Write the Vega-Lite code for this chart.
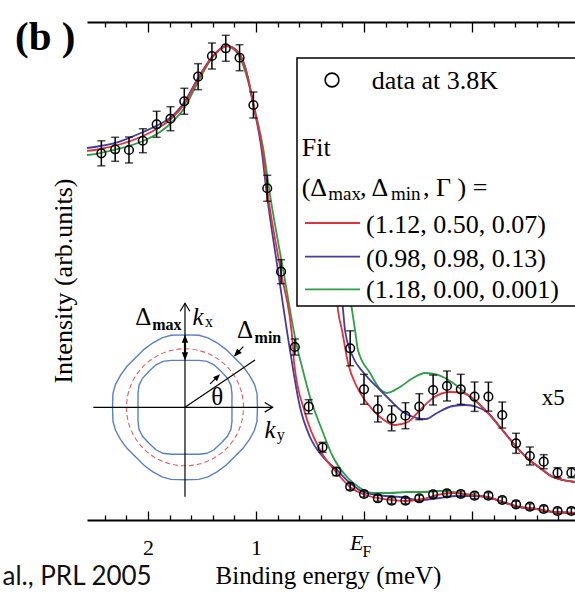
{
  "$schema": "https://vega.github.io/schema/vega-lite/v6.json",
  "width": 488,
  "height": 498,
  "autosize": {"type": "none"},
  "padding": {"left": 87, "top": 22, "right": 0, "bottom": 74},
  "background": "white",
  "config": {"view": {"stroke": null}, "font": "Liberation Serif", "axis": {"grid": false}},
  "datasets": {
    "curves": [
      {"fit":"green","part":"main","E":2.565,"I":73.29},{"fit":"green","part":"main","E":2.444,"I":73.69},{"fit":"green","part":"main","E":2.278,"I":74.5},{"fit":"green","part":"main","E":2.046,"I":76.1},{"fit":"green","part":"main","E":1.889,"I":77.91},{"fit":"green","part":"main","E":1.796,"I":79.52},{"fit":"green","part":"main","E":1.657,"I":82.93},{"fit":"green","part":"main","E":1.537,"I":87.95},{"fit":"green","part":"main","E":1.407,"I":92.77},{"fit":"green","part":"main","E":1.269,"I":95.18},{"fit":"green","part":"main","E":1.167,"I":93.57},{"fit":"green","part":"main","E":1.074,"I":88.15},{"fit":"green","part":"main","E":1.019,"I":83.13},{"fit":"green","part":"main","E":0.926,"I":73.69},{"fit":"green","part":"main","E":0.88,"I":66.67},{"fit":"green","part":"main","E":0.745,"I":49.8},{"fit":"green","part":"main","E":0.62,"I":34.74},{"fit":"green","part":"main","E":0.583,"I":31.53},{"fit":"green","part":"main","E":0.5,"I":24.7},{"fit":"green","part":"main","E":0.389,"I":18.07},{"fit":"green","part":"main","E":0.287,"I":12.65},{"fit":"green","part":"main","E":0.157,"I":8.63},{"fit":"green","part":"main","E":0.037,"I":6.43},{"fit":"green","part":"main","E":-0.083,"I":5.42},{"fit":"green","part":"main","E":-0.241,"I":5.42},{"fit":"green","part":"main","E":-0.398,"I":5.62},{"fit":"green","part":"main","E":-0.546,"I":5.62},{"fit":"green","part":"main","E":-0.704,"I":5.82},{"fit":"green","part":"main","E":-0.889,"I":5.42},{"fit":"green","part":"main","E":-1.0,"I":5.02},{"fit":"green","part":"main","E":-1.139,"I":4.62},{"fit":"green","part":"main","E":-1.287,"I":3.61},{"fit":"green","part":"main","E":-1.444,"I":2.61},{"fit":"green","part":"main","E":-1.602,"I":2.21},{"fit":"green","part":"main","E":-1.75,"I":1.61},{"fit":"green","part":"main","E":-1.954,"I":1.41},
      {"fit":"blue","part":"main","E":2.565,"I":74.7},{"fit":"blue","part":"main","E":2.444,"I":75.1},{"fit":"blue","part":"main","E":2.278,"I":75.9},{"fit":"blue","part":"main","E":2.046,"I":77.91},{"fit":"blue","part":"main","E":1.889,"I":79.52},{"fit":"blue","part":"main","E":1.796,"I":80.72},{"fit":"blue","part":"main","E":1.657,"I":84.14},{"fit":"blue","part":"main","E":1.537,"I":88.76},{"fit":"blue","part":"main","E":1.407,"I":92.97},{"fit":"blue","part":"main","E":1.269,"I":95.18},{"fit":"blue","part":"main","E":1.167,"I":93.98},{"fit":"blue","part":"main","E":1.074,"I":88.76},{"fit":"blue","part":"main","E":1.028,"I":83.73},{"fit":"blue","part":"main","E":0.944,"I":73.69},{"fit":"blue","part":"main","E":0.907,"I":66.67},{"fit":"blue","part":"main","E":0.796,"I":50.0},{"fit":"blue","part":"main","E":0.69,"I":34.74},{"fit":"blue","part":"main","E":0.593,"I":22.69},{"fit":"blue","part":"main","E":0.5,"I":16.67},{"fit":"blue","part":"main","E":0.38,"I":12.65},{"fit":"blue","part":"main","E":0.25,"I":10.04},{"fit":"blue","part":"main","E":0.13,"I":7.43},{"fit":"blue","part":"main","E":0.009,"I":5.62},{"fit":"blue","part":"main","E":-0.12,"I":5.02},{"fit":"blue","part":"main","E":-0.333,"I":4.62},{"fit":"blue","part":"main","E":-0.519,"I":4.02},{"fit":"blue","part":"main","E":-0.704,"I":4.42},{"fit":"blue","part":"main","E":-0.861,"I":4.82},{"fit":"blue","part":"main","E":-1.0,"I":4.82},{"fit":"blue","part":"main","E":-1.139,"I":4.62},{"fit":"blue","part":"main","E":-1.287,"I":3.61},{"fit":"blue","part":"main","E":-1.444,"I":2.61},{"fit":"blue","part":"main","E":-1.602,"I":2.21},{"fit":"blue","part":"main","E":-1.75,"I":1.61},{"fit":"blue","part":"main","E":-1.954,"I":1.41},
      {"fit":"red","part":"main","E":2.565,"I":74.1},{"fit":"red","part":"main","E":2.444,"I":74.5},{"fit":"red","part":"main","E":2.278,"I":75.3},{"fit":"red","part":"main","E":2.046,"I":77.11},{"fit":"red","part":"main","E":1.889,"I":78.92},{"fit":"red","part":"main","E":1.796,"I":80.32},{"fit":"red","part":"main","E":1.657,"I":83.73},{"fit":"red","part":"main","E":1.537,"I":88.55},{"fit":"red","part":"main","E":1.407,"I":92.97},{"fit":"red","part":"main","E":1.269,"I":95.18},{"fit":"red","part":"main","E":1.167,"I":93.98},{"fit":"red","part":"main","E":1.074,"I":88.76},{"fit":"red","part":"main","E":1.028,"I":83.73},{"fit":"red","part":"main","E":0.935,"I":73.69},{"fit":"red","part":"main","E":0.898,"I":66.67},{"fit":"red","part":"main","E":0.769,"I":49.8},{"fit":"red","part":"main","E":0.657,"I":34.74},{"fit":"red","part":"main","E":0.648,"I":31.73},{"fit":"red","part":"main","E":0.546,"I":21.49},{"fit":"red","part":"main","E":0.407,"I":14.06},{"fit":"red","part":"main","E":0.25,"I":9.44},{"fit":"red","part":"main","E":0.13,"I":6.63},{"fit":"red","part":"main","E":0.009,"I":5.22},{"fit":"red","part":"main","E":-0.12,"I":4.42},{"fit":"red","part":"main","E":-0.241,"I":4.02},{"fit":"red","part":"main","E":-0.398,"I":3.82},{"fit":"red","part":"main","E":-0.546,"I":4.22},{"fit":"red","part":"main","E":-0.676,"I":5.02},{"fit":"red","part":"main","E":-0.824,"I":5.42},{"fit":"red","part":"main","E":-0.981,"I":5.02},{"fit":"red","part":"main","E":-1.139,"I":4.62},{"fit":"red","part":"main","E":-1.287,"I":3.61},{"fit":"red","part":"main","E":-1.444,"I":2.61},{"fit":"red","part":"main","E":-1.602,"I":2.21},{"fit":"red","part":"main","E":-1.75,"I":1.61},{"fit":"red","part":"main","E":-1.954,"I":1.41},
      {"fit":"green","part":"x5","E":0.139,"I":46.18},{"fit":"green","part":"x5","E":0.111,"I":42.17},{"fit":"green","part":"x5","E":0.083,"I":38.15},{"fit":"green","part":"x5","E":0.056,"I":34.14},{"fit":"green","part":"x5","E":-0.056,"I":29.52},{"fit":"green","part":"x5","E":-0.148,"I":26.31},{"fit":"green","part":"x5","E":-0.213,"I":25.5},{"fit":"green","part":"x5","E":-0.333,"I":26.71},{"fit":"green","part":"x5","E":-0.454,"I":28.51},{"fit":"green","part":"x5","E":-0.565,"I":29.52},{"fit":"green","part":"x5","E":-0.685,"I":29.12},{"fit":"green","part":"x5","E":-0.824,"I":27.51},{"fit":"green","part":"x5","E":-0.981,"I":24.7},{"fit":"green","part":"x5","E":-1.074,"I":23.09},{"fit":"green","part":"x5","E":-1.139,"I":21.69},{"fit":"green","part":"x5","E":-1.259,"I":18.67},{"fit":"green","part":"x5","E":-1.38,"I":15.46},{"fit":"green","part":"x5","E":-1.509,"I":12.45},{"fit":"green","part":"x5","E":-1.63,"I":10.44},{"fit":"green","part":"x5","E":-1.75,"I":8.63},{"fit":"green","part":"x5","E":-1.954,"I":7.63},
      {"fit":"blue","part":"x5","E":0.213,"I":46.18},{"fit":"blue","part":"x5","E":0.194,"I":42.17},{"fit":"blue","part":"x5","E":0.176,"I":38.15},{"fit":"blue","part":"x5","E":0.102,"I":32.73},{"fit":"blue","part":"x5","E":0.009,"I":29.72},{"fit":"blue","part":"x5","E":-0.12,"I":26.71},{"fit":"blue","part":"x5","E":-0.241,"I":24.1},{"fit":"blue","part":"x5","E":-0.361,"I":21.69},{"fit":"blue","part":"x5","E":-0.491,"I":20.48},{"fit":"blue","part":"x5","E":-0.574,"I":20.28},{"fit":"blue","part":"x5","E":-0.676,"I":21.49},{"fit":"blue","part":"x5","E":-0.824,"I":22.89},{"fit":"blue","part":"x5","E":-0.944,"I":23.09},{"fit":"blue","part":"x5","E":-1.046,"I":22.69},{"fit":"blue","part":"x5","E":-1.139,"I":21.69},{"fit":"blue","part":"x5","E":-1.259,"I":18.67},{"fit":"blue","part":"x5","E":-1.38,"I":15.46},{"fit":"blue","part":"x5","E":-1.509,"I":12.45},{"fit":"blue","part":"x5","E":-1.63,"I":10.44},{"fit":"blue","part":"x5","E":-1.75,"I":8.63},{"fit":"blue","part":"x5","E":-1.954,"I":7.63},
      {"fit":"red","part":"x5","E":0.259,"I":46.18},{"fit":"red","part":"x5","E":0.241,"I":42.17},{"fit":"red","part":"x5","E":0.204,"I":38.15},{"fit":"red","part":"x5","E":0.148,"I":31.53},{"fit":"red","part":"x5","E":0.065,"I":26.71},{"fit":"red","part":"x5","E":-0.028,"I":23.49},{"fit":"red","part":"x5","E":-0.148,"I":20.68},{"fit":"red","part":"x5","E":-0.287,"I":19.08},{"fit":"red","part":"x5","E":-0.407,"I":19.68},{"fit":"red","part":"x5","E":-0.519,"I":22.09},{"fit":"red","part":"x5","E":-0.639,"I":24.5},{"fit":"red","part":"x5","E":-0.796,"I":25.7},{"fit":"red","part":"x5","E":-0.917,"I":25.5},{"fit":"red","part":"x5","E":-1.028,"I":24.1},{"fit":"red","part":"x5","E":-1.139,"I":21.69},{"fit":"red","part":"x5","E":-1.259,"I":18.67},{"fit":"red","part":"x5","E":-1.38,"I":15.46},{"fit":"red","part":"x5","E":-1.509,"I":12.45},{"fit":"red","part":"x5","E":-1.63,"I":10.44},{"fit":"red","part":"x5","E":-1.75,"I":8.63},{"fit":"red","part":"x5","E":-1.954,"I":7.63}
    ],
    "pts": [
      {"set":"main","E":2.432,"I":73.63,"err":2.51},{"set":"main","E":2.304,"I":74.44,"err":2.41},{"set":"main","E":2.176,"I":74.3,"err":2.61},{"set":"main","E":2.048,"I":76.16,"err":2.41},{"set":"main","E":1.92,"I":79.46,"err":2.61},{"set":"main","E":1.792,"I":80.58,"err":2.41},{"set":"main","E":1.664,"I":84.08,"err":2.61},{"set":"main","E":1.536,"I":89.02,"err":2.61},{"set":"main","E":1.408,"I":93.17,"err":2.61},{"set":"main","E":1.28,"I":94.72,"err":2.61},{"set":"main","E":1.152,"I":92.83,"err":2.61},{"set":"main","E":1.024,"I":83.33,"err":2.61},{"set":"main","E":0.896,"I":66.61,"err":2.61},{"set":"main","E":0.768,"I":49.86,"err":2.41},{"set":"main","E":0.64,"I":34.74,"err":1.61},{"set":"main","E":0.512,"I":22.75,"err":1.41},{"set":"main","E":0.384,"I":14.6,"err":1.0},{"set":"main","E":0.256,"I":9.7,"err":0.8},{"set":"main","E":0.128,"I":6.69,"err":0.6},{"set":"main","E":0,"I":5.22,"err":0.6},{"set":"main","E":-0.128,"I":4.36,"err":0.6},{"set":"main","E":-0.256,"I":3.88,"err":0.6},{"set":"main","E":-0.384,"I":3.88,"err":0.6},{"set":"main","E":-0.512,"I":4.36,"err":0.6},{"set":"main","E":-0.64,"I":5.16,"err":0.6},{"set":"main","E":-0.768,"I":5.36,"err":0.6},{"set":"main","E":-0.896,"I":5.22,"err":0.6},{"set":"main","E":-1.024,"I":4.88,"err":0.6},{"set":"main","E":-1.152,"I":4.88,"err":0.6},{"set":"main","E":-1.28,"I":4.02,"err":0.6},{"set":"main","E":-1.408,"I":3.15,"err":0.6},{"set":"main","E":-1.536,"I":2.67,"err":0.6},{"set":"main","E":-1.664,"I":2.21,"err":0.6},{"set":"main","E":-1.792,"I":1.81,"err":0.6},{"set":"main","E":-1.92,"I":1.81,"err":0.6},
      {"set":"x5","E":0.128,"I":34.48,"err":3.51},{"set":"x5","E":0,"I":26.24,"err":3.01},{"set":"x5","E":-0.128,"I":22.29,"err":2.61},{"set":"x5","E":-0.256,"I":20.42,"err":2.51},{"set":"x5","E":-0.384,"I":20.94,"err":2.61},{"set":"x5","E":-0.512,"I":22.75,"err":2.61},{"set":"x5","E":-0.64,"I":26.1,"err":3.01},{"set":"x5","E":-0.768,"I":26.91,"err":3.01},{"set":"x5","E":-0.896,"I":26.24,"err":3.01},{"set":"x5","E":-1.024,"I":24.76,"err":2.95},{"set":"x5","E":-1.152,"I":24.76,"err":2.91},{"set":"x5","E":-1.28,"I":21.08,"err":2.61},{"set":"x5","E":-1.408,"I":15.4,"err":2.01},{"set":"x5","E":-1.536,"I":12.85,"err":1.81},{"set":"x5","E":-1.664,"I":11.71,"err":1.41},{"set":"x5","E":-1.792,"I":9.5,"err":1.0},{"set":"x5","E":-1.92,"I":9.5,"err":1.0}
    ],
    "contour": [
      {"c":"outer","o":0,"ky":0,"kx":1.239},{"c":"outer","o":1,"ky":0.239,"kx":1.231},{"c":"outer","o":2,"ky":0.393,"kx":1.188},{"c":"outer","o":3,"ky":0.547,"kx":1.103},{"c":"outer","o":4,"ky":0.701,"kx":0.991},{"c":"outer","o":5,"ky":0.803,"kx":0.889},{"c":"outer","o":6,"ky":0.889,"kx":0.803},{"c":"outer","o":7,"ky":0.991,"kx":0.701},{"c":"outer","o":8,"ky":1.103,"kx":0.547},{"c":"outer","o":9,"ky":1.188,"kx":0.393},{"c":"outer","o":10,"ky":1.231,"kx":0.239},{"c":"outer","o":11,"ky":1.239,"kx":0},{"c":"outer","o":12,"ky":1.231,"kx":-0.239},{"c":"outer","o":13,"ky":1.188,"kx":-0.393},{"c":"outer","o":14,"ky":1.103,"kx":-0.547},{"c":"outer","o":15,"ky":0.991,"kx":-0.701},{"c":"outer","o":16,"ky":0.889,"kx":-0.803},{"c":"outer","o":17,"ky":0.803,"kx":-0.889},{"c":"outer","o":18,"ky":0.701,"kx":-0.991},{"c":"outer","o":19,"ky":0.547,"kx":-1.103},{"c":"outer","o":20,"ky":0.393,"kx":-1.188},{"c":"outer","o":21,"ky":0.239,"kx":-1.231},{"c":"outer","o":22,"ky":0,"kx":-1.239},{"c":"outer","o":23,"ky":-0.239,"kx":-1.231},{"c":"outer","o":24,"ky":-0.393,"kx":-1.188},{"c":"outer","o":25,"ky":-0.547,"kx":-1.103},{"c":"outer","o":26,"ky":-0.701,"kx":-0.991},{"c":"outer","o":27,"ky":-0.803,"kx":-0.889},{"c":"outer","o":28,"ky":-0.889,"kx":-0.803},{"c":"outer","o":29,"ky":-0.991,"kx":-0.701},{"c":"outer","o":30,"ky":-1.103,"kx":-0.547},{"c":"outer","o":31,"ky":-1.188,"kx":-0.393},{"c":"outer","o":32,"ky":-1.231,"kx":-0.239},{"c":"outer","o":33,"ky":-1.239,"kx":0},{"c":"outer","o":34,"ky":-1.231,"kx":0.239},{"c":"outer","o":35,"ky":-1.188,"kx":0.393},{"c":"outer","o":36,"ky":-1.103,"kx":0.547},{"c":"outer","o":37,"ky":-0.991,"kx":0.701},{"c":"outer","o":38,"ky":-0.889,"kx":0.803},{"c":"outer","o":39,"ky":-0.803,"kx":0.889},{"c":"outer","o":40,"ky":-0.701,"kx":0.991},{"c":"outer","o":41,"ky":-0.547,"kx":1.103},{"c":"outer","o":42,"ky":-0.393,"kx":1.188},{"c":"outer","o":43,"ky":-0.239,"kx":1.231},
      {"c":"inner","o":0,"ky":0,"kx":0.803},{"c":"inner","o":1,"ky":0.239,"kx":0.803},{"c":"inner","o":2,"ky":0.376,"kx":0.786},{"c":"inner","o":3,"ky":0.496,"kx":0.726},{"c":"inner","o":4,"ky":0.615,"kx":0.615},{"c":"inner","o":5,"ky":0.726,"kx":0.496},{"c":"inner","o":6,"ky":0.786,"kx":0.376},{"c":"inner","o":7,"ky":0.803,"kx":0.239},{"c":"inner","o":8,"ky":0.803,"kx":0},{"c":"inner","o":9,"ky":0.803,"kx":-0.239},{"c":"inner","o":10,"ky":0.786,"kx":-0.376},{"c":"inner","o":11,"ky":0.726,"kx":-0.496},{"c":"inner","o":12,"ky":0.615,"kx":-0.615},{"c":"inner","o":13,"ky":0.496,"kx":-0.726},{"c":"inner","o":14,"ky":0.376,"kx":-0.786},{"c":"inner","o":15,"ky":0.239,"kx":-0.803},{"c":"inner","o":16,"ky":0,"kx":-0.803},{"c":"inner","o":17,"ky":-0.239,"kx":-0.803},{"c":"inner","o":18,"ky":-0.376,"kx":-0.786},{"c":"inner","o":19,"ky":-0.496,"kx":-0.726},{"c":"inner","o":20,"ky":-0.615,"kx":-0.615},{"c":"inner","o":21,"ky":-0.726,"kx":-0.496},{"c":"inner","o":22,"ky":-0.786,"kx":-0.376},{"c":"inner","o":23,"ky":-0.803,"kx":-0.239},{"c":"inner","o":24,"ky":-0.803,"kx":0},{"c":"inner","o":25,"ky":-0.803,"kx":0.239},{"c":"inner","o":26,"ky":-0.786,"kx":0.376},{"c":"inner","o":27,"ky":-0.726,"kx":0.496},{"c":"inner","o":28,"ky":-0.615,"kx":0.615},{"c":"inner","o":29,"ky":-0.496,"kx":0.726},{"c":"inner","o":30,"ky":-0.376,"kx":0.786},{"c":"inner","o":31,"ky":-0.239,"kx":0.803}
    ],
    "circ": [
      {"o":0,"ky":1,"kx":0},{"o":1,"ky":0.966,"kx":0.259},{"o":2,"ky":0.866,"kx":0.5},{"o":3,"ky":0.707,"kx":0.707},{"o":4,"ky":0.5,"kx":0.866},{"o":5,"ky":0.259,"kx":0.966},{"o":6,"ky":0,"kx":1},{"o":7,"ky":-0.259,"kx":0.966},{"o":8,"ky":-0.5,"kx":0.866},{"o":9,"ky":-0.707,"kx":0.707},{"o":10,"ky":-0.866,"kx":0.5},{"o":11,"ky":-0.966,"kx":0.259},{"o":12,"ky":-1,"kx":0},{"o":13,"ky":-0.966,"kx":-0.259},{"o":14,"ky":-0.866,"kx":-0.5},{"o":15,"ky":-0.707,"kx":-0.707},{"o":16,"ky":-0.5,"kx":-0.866},{"o":17,"ky":-0.259,"kx":-0.966},{"o":18,"ky":0,"kx":-1},{"o":19,"ky":0.259,"kx":-0.966},{"o":20,"ky":0.5,"kx":-0.866},{"o":21,"ky":0.707,"kx":-0.707},{"o":22,"ky":0.866,"kx":-0.5},{"o":23,"ky":0.966,"kx":-0.259}
    ]
  },
  "layer": [
    {
      "layer": [
        {
          "data": {"name": "curves"},
          "mark": {"type": "line", "interpolate": "monotone", "strokeWidth": 1.8},
          "encoding": {
            "x": {"field": "E", "type": "quantitative",
              "scale": {"domain": [2.5648, -1.9537], "nice": false, "zero": false},
              "axis": {"orient": "bottom", "values": [2, 1, 0], "labelExpr": "datum.value == 2 ? '2' : datum.value == 1 ? '1' : ''",
                "ticks": false, "domain": true, "domainColor": "black", "domainWidth": 1.8,
                "labelFont": "Liberation Serif", "labelFontSize": 22, "labelColor": "black", "labelBaseline": "alphabetic", "labelPadding": 34, "labelFlush": false, "labelOverlap": false,
                "title": "Binding energy  (meV)", "titleFont": "Liberation Serif", "titleFontSize": 25, "titleFontWeight": "normal", "titleColor": "black",
                "titleX": 241, "titleY": 63, "titleBaseline": "alphabetic", "titleAlign": "center", "grid": false}},
            "y": {"field": "I", "type": "quantitative",
              "scale": {"domain": [0, 100], "nice": false, "zero": false},
              "axis": {"orient": "left", "ticks": false, "labels": false, "domain": true, "domainColor": "black", "domainWidth": 1.8, "grid": false, "title": null}},
            "color": {"field": "fit", "type": "nominal", "scale": {"domain": ["red", "blue", "green"], "range": ["#e0323c", "#463c9e", "#2e9e48"]}, "legend": null},
            "detail": {"field": "part"}
          }
        },
        {
          "data": {"name": "pts"},
          "mark": {"type": "errorbar", "color": "black", "thickness": 1.5, "ticks": {"size": 8, "thickness": 1.5, "color": "black"}},
          "encoding": {
            "x": {"field": "E", "type": "quantitative", "axis": null},
            "y": {"field": "I", "type": "quantitative", "axis": null},
            "yError": {"field": "err"}
          }
        },
        {
          "data": {"name": "pts"},
          "mark": {"type": "point", "shape": "circle", "filled": false, "stroke": "black", "strokeWidth": 1.5, "size": 75, "opacity": 1},
          "encoding": {
            "x": {"field": "E", "type": "quantitative",
              "axis": {"orient": "top", "offset": -498, "values": [2.4, 2.2, 2, 1.8, 1.6, 1.4, 1.2, 1, 0.8, 0.6, 0.4, 0.2, 0, -0.2, -0.4, -0.6, -0.8, -1, -1.2, -1.4, -1.6, -1.8],
                "labels": false, "domain": false, "ticks": true, "tickColor": "black", "tickWidth": 1.3,
                "tickSize": {"condition": {"test": "abs(datum.value - round(datum.value)) < 0.01", "value": 9}, "value": 5},
                "title": null, "grid": false}},
            "y": {"field": "I", "type": "quantitative", "axis": null}
          }
        },
        {
          "mark": {"type": "rule", "color": "black", "strokeWidth": 1.3, "strokeDash": [4, 3]},
          "encoding": {"x": {"datum": 0, "type": "quantitative", "axis": null}}
        },
        {
          "data": {"values": [{"E": 0.6204, "E2": -2.2, "I": 92.77, "I2": 42.97}]},
          "mark": {"type": "rect", "fill": "white", "stroke": "black", "strokeWidth": 1.5},
          "encoding": {
            "x": {"field": "E", "type": "quantitative",
              "axis": {"orient": "bottom", "offset": -498, "values": [2.4, 2.2, 2, 1.8, 1.6, 1.4, 1.2, 1, 0.8, 0.6, 0.4, 0.2, 0, -0.2, -0.4, -0.6, -0.8, -1, -1.2, -1.4, -1.6, -1.8],
                "labels": false, "domain": true, "domainColor": "black", "domainWidth": 1.8, "ticks": true, "tickColor": "black", "tickWidth": 1.3,
                "tickSize": {"condition": {"test": "abs(datum.value - round(datum.value)) < 0.01", "value": 10}, "value": 5},
                "title": null, "grid": false}},
            "x2": {"field": "E2"},
            "y": {"field": "I", "type": "quantitative", "axis": null},
            "y2": {"field": "I2"}
          }
        },
        {
          "data": {"values": [{"fit": "red", "E": 0.5463, "E2": 0.037, "I": 59.64}, {"fit": "blue", "E": 0.5463, "E2": 0.037, "I": 52.87}, {"fit": "green", "E": 0.5463, "E2": 0.037, "I": 46.32}]},
          "mark": {"type": "rule", "strokeWidth": 1.8},
          "encoding": {
            "x": {"field": "E", "type": "quantitative", "axis": null},
            "x2": {"field": "E2"},
            "y": {"field": "I", "type": "quantitative", "axis": null},
            "color": {"field": "fit", "type": "nominal", "legend": null}
          }
        },
        {
          "data": {"values": [{"E": 0.2963, "I": 88.35}]},
          "mark": {"type": "point", "shape": "circle", "filled": false, "stroke": "black", "strokeWidth": 1.6, "size": 190, "opacity": 1},
          "encoding": {
            "x": {"field": "E", "type": "quantitative", "axis": null},
            "y": {"field": "I", "type": "quantitative", "axis": null}
          }
        },
        {
          "data": {"values": [
            {"E": -0.0713, "I": 86.49, "t": "data at 3.8K"},
            {"E": 0.5769, "I": 73.09, "t": "Fit"},
            {"E": 0.5769, "I": 65.06, "t": "(Δ"},
            {"E": 0.037, "I": 65.06, "t": ", Δ"},
            {"E": -0.546, "I": 65.06, "t": ", Γ ) ="},
            {"E": -0.0185, "I": 57.63, "t": "(1.12, 0.50, 0.07)"},
            {"E": -0.0185, "I": 50.8, "t": "(0.98, 0.98, 0.13)"},
            {"E": -0.0185, "I": 44.6, "t": "(1.18, 0.00, 0.001)"}
          ]},
          "mark": {"type": "text", "align": "left", "baseline": "alphabetic", "font": "Liberation Serif", "fontSize": 26, "color": "black"},
          "encoding": {
            "x": {"field": "E", "type": "quantitative", "axis": null},
            "y": {"field": "I", "type": "quantitative", "axis": null},
            "text": {"field": "t"}
          }
        },
        {
          "data": {"values": [{"E": 0.3306, "I": 64.26, "t": "max"}, {"E": -0.25, "I": 64.26, "t": "min"}]},
          "mark": {"type": "text", "align": "left", "baseline": "alphabetic", "font": "Liberation Serif", "fontSize": 19, "color": "black"},
          "encoding": {
            "x": {"field": "E", "type": "quantitative", "axis": null},
            "y": {"field": "I", "type": "quantitative", "axis": null},
            "text": {"field": "t"}
          }
        },
        {
          "data": {"values": [{"E": 2.7037, "I": 47.99, "t": "Intensity (arb.units)"}]},
          "mark": {"type": "text", "align": "center", "baseline": "alphabetic", "angle": 270, "font": "Liberation Serif", "fontSize": 26, "color": "black"},
          "encoding": {
            "x": {"field": "E", "type": "quantitative", "axis": null},
            "y": {"field": "I", "type": "quantitative", "axis": null},
            "text": {"field": "t"}
          }
        },
        {
          "data": {"values": [{"E": 3.2315, "I": 94.38, "t": "(b )"}]},
          "mark": {"type": "text", "align": "left", "baseline": "alphabetic", "font": "Liberation Serif", "fontSize": 41, "fontWeight": "bold", "color": "black"},
          "encoding": {
            "x": {"field": "E", "type": "quantitative", "axis": null},
            "y": {"field": "I", "type": "quantitative", "axis": null},
            "text": {"field": "t"}
          }
        },
        {
          "data": {"values": [{"E": -1.645, "I": 23.09, "t": "x5"}]},
          "mark": {"type": "text", "align": "left", "baseline": "alphabetic", "font": "Liberation Serif", "fontSize": 23, "color": "black"},
          "encoding": {
            "x": {"field": "E", "type": "quantitative", "axis": null},
            "y": {"field": "I", "type": "quantitative", "axis": null},
            "text": {"field": "t"}
          }
        },
        {
          "data": {"values": [{"E": 0.1296, "I": -6.02, "t": "E"}]},
          "mark": {"type": "text", "align": "left", "baseline": "alphabetic", "font": "Liberation Serif", "fontSize": 22, "fontStyle": "italic", "color": "black"},
          "encoding": {
            "x": {"field": "E", "type": "quantitative", "axis": null},
            "y": {"field": "I", "type": "quantitative", "axis": null},
            "text": {"field": "t"}
          }
        },
        {
          "data": {"values": [{"E": 0.0139, "I": -7.43, "t": "F"}]},
          "mark": {"type": "text", "align": "left", "baseline": "alphabetic", "font": "Liberation Serif", "fontSize": 16, "color": "black"},
          "encoding": {
            "x": {"field": "E", "type": "quantitative", "axis": null},
            "y": {"field": "I", "type": "quantitative", "axis": null},
            "text": {"field": "t"}
          }
        },
        {
          "data": {"values": [{"E": 1.9657, "I": -13.05, "t": "al., PRL 2005"}]},
          "mark": {"type": "text", "align": "right", "baseline": "alphabetic", "font": "Lato", "fontSize": 26, "color": "#111111"},
          "encoding": {
            "x": {"field": "E", "type": "quantitative", "axis": null},
            "y": {"field": "I", "type": "quantitative", "axis": null},
            "text": {"field": "t"}
          }
        }
      ],
      "resolve": {"axis": {"x": "independent"}}
    },
    {
      "layer": [
        {
          "data": {"name": "contour"},
          "mark": {"type": "line", "interpolate": "linear-closed", "stroke": "#5b7fc4", "strokeWidth": 1.4},
          "encoding": {
            "x": {"field": "ky", "type": "quantitative", "scale": {"domain": [-1.675, 6.667], "nice": false, "zero": false}, "axis": null},
            "y": {"field": "kx", "type": "quantitative", "scale": {"domain": [-1.926, 6.586], "nice": false, "zero": false}, "axis": null},
            "detail": {"field": "c"},
            "order": {"field": "o"}
          }
        },
        {
          "data": {"name": "circ"},
          "mark": {"type": "line", "interpolate": "cardinal-closed", "stroke": "#e06060", "strokeWidth": 1.1, "strokeDash": [5, 3]},
          "encoding": {
            "x": {"field": "ky", "type": "quantitative", "axis": null},
            "y": {"field": "kx", "type": "quantitative", "axis": null},
            "order": {"field": "o"}
          }
        },
        {
          "data": {"values": [
            {"ky": -1.567, "kx": 0, "ky2": 1.499, "kx2": 0},
            {"ky": 0, "kx": -1.527, "ky2": 0, "kx2": 1.778},
            {"ky": 0, "kx": 0, "ky2": 1.197, "kx2": 0.809},
            {"ky": 0.997, "kx": 1.038, "ky2": 0.85, "kx2": 0.88},
            {"ky": 0.43, "kx": 0.4, "ky2": 0.56, "kx2": 0.53}
          ]},
          "mark": {"type": "rule", "color": "black", "strokeWidth": 1.2},
          "encoding": {
            "x": {"field": "ky", "type": "quantitative", "axis": null},
            "y": {"field": "kx", "type": "quantitative", "axis": null},
            "x2": {"field": "ky2"},
            "y2": {"field": "kx2"}
          }
        },
        {
          "data": {"values": [{"ky": 0, "kx": 0.86, "ky2": 0, "kx2": 1.18}]},
          "mark": {"type": "rule", "color": "black", "strokeWidth": 2.2},
          "encoding": {
            "x": {"field": "ky", "type": "quantitative", "axis": null},
            "y": {"field": "kx", "type": "quantitative", "axis": null},
            "x2": {"field": "ky2"},
            "y2": {"field": "kx2"}
          }
        },
        {
          "data": {"values": [{"ky": 0, "kx": 1.778}]},
          "mark": {"type": "point", "shape": "M-0.6,1L0,0L0.6,1", "filled": false, "stroke": "black", "strokeWidth": 1.2, "size": 256, "opacity": 1},
          "encoding": {"x": {"field": "ky", "type": "quantitative", "axis": null}, "y": {"field": "kx", "type": "quantitative", "axis": null}}
        },
        {
          "data": {"values": [{"ky": 1.499, "kx": 0}]},
          "mark": {"type": "point", "shape": "M-0.6,1L0,0L0.6,1", "angle": 90, "filled": false, "stroke": "black", "strokeWidth": 1.2, "size": 256, "opacity": 1},
          "encoding": {"x": {"field": "ky", "type": "quantitative", "axis": null}, "y": {"field": "kx", "type": "quantitative", "axis": null}}
        },
        {
          "data": {"values": [{"ky": 0, "kx": 1.239}]},
          "mark": {"type": "point", "shape": "M0,0L-0.4,1L0.4,1Z", "filled": true, "fill": "black", "size": 256, "opacity": 1},
          "encoding": {"x": {"field": "ky", "type": "quantitative", "axis": null}, "y": {"field": "kx", "type": "quantitative", "axis": null}}
        },
        {
          "data": {"values": [{"ky": 0, "kx": 0.803}]},
          "mark": {"type": "point", "shape": "M0,0L-0.4,1L0.4,1Z", "angle": 180, "filled": true, "fill": "black", "size": 256, "opacity": 1},
          "encoding": {"x": {"field": "ky", "type": "quantitative", "axis": null}, "y": {"field": "kx", "type": "quantitative", "axis": null}}
        },
        {
          "data": {"values": [{"ky": 0.838, "kx": 0.867}]},
          "mark": {"type": "point", "shape": "M0,0L-0.4,1L0.4,1Z", "angle": 223, "filled": true, "fill": "black", "size": 256, "opacity": 1},
          "encoding": {"x": {"field": "ky", "type": "quantitative", "axis": null}, "y": {"field": "kx", "type": "quantitative", "axis": null}}
        },
        {
          "data": {"values": [{"ky": 0.598, "kx": 0.564}]},
          "mark": {"type": "point", "shape": "M0,0L-0.4,1L0.4,1Z", "angle": 45, "filled": true, "fill": "black", "size": 196, "opacity": 1},
          "encoding": {"x": {"field": "ky", "type": "quantitative", "axis": null}, "y": {"field": "kx", "type": "quantitative", "axis": null}}
        },
        {
          "data": {"values": [{"ky": -0.85, "kx": 1.407, "t": "Δ"}, {"ky": 0.89, "kx": 1.185, "t": "Δ"}, {"ky": 0.45, "kx": 0.039, "t": "θ"}]},
          "mark": {"type": "text", "align": "left", "baseline": "alphabetic", "font": "Liberation Serif", "fontSize": 25, "color": "black"},
          "encoding": {"x": {"field": "ky", "type": "quantitative", "axis": null}, "y": {"field": "kx", "type": "quantitative", "axis": null}, "text": {"field": "t"}}
        },
        {
          "data": {"values": [{"ky": 0.13, "kx": 1.407, "t": "k"}, {"ky": 1.36, "kx": -0.525, "t": "k"}]},
          "mark": {"type": "text", "align": "left", "baseline": "alphabetic", "font": "Liberation Serif", "fontSize": 25, "fontStyle": "italic", "color": "black"},
          "encoding": {"x": {"field": "ky", "type": "quantitative", "axis": null}, "y": {"field": "kx", "type": "quantitative", "axis": null}, "text": {"field": "t"}}
        },
        {
          "data": {"values": [{"ky": -0.56, "kx": 1.321, "t": "max"}, {"ky": 1.19, "kx": 1.099, "t": "min"}]},
          "mark": {"type": "text", "align": "left", "baseline": "alphabetic", "font": "Liberation Serif", "fontSize": 16, "fontWeight": "bold", "color": "black"},
          "encoding": {"x": {"field": "ky", "type": "quantitative", "axis": null}, "y": {"field": "kx", "type": "quantitative", "axis": null}, "text": {"field": "t"}}
        },
        {
          "data": {"values": [{"ky": 0.342, "kx": 1.373, "t": "x"}, {"ky": 1.567, "kx": -0.559, "t": "y"}]},
          "mark": {"type": "text", "align": "left", "baseline": "alphabetic", "font": "Liberation Serif", "fontSize": 16, "color": "black"},
          "encoding": {"x": {"field": "ky", "type": "quantitative", "axis": null}, "y": {"field": "kx", "type": "quantitative", "axis": null}, "text": {"field": "t"}}
        }
      ]
    }
  ],
  "resolve": {"scale": {"x": "independent", "y": "independent"}}
}
